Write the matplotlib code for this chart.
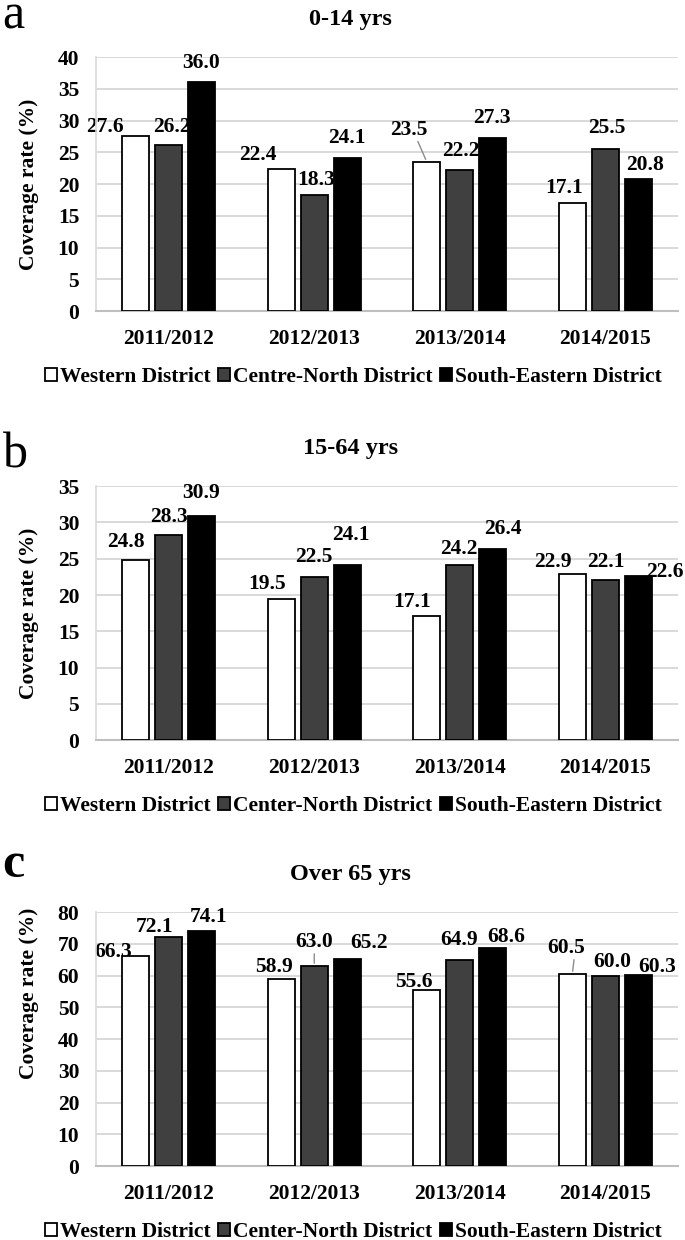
import numpy as np
import matplotlib.pyplot as plt

plt.rcParams['font.family'] = ['Liberation Serif', 'DejaVu Serif']

seasons = ["2011/2012", "2012/2013", "2013/2014", "2014/2015"]

# coverage rate (%) per district, one array per age group
western_014 = [27.6, 22.4, 23.5, 17.1]
centre_014 = [26.2, 18.3, 22.2, 25.5]
southeast_014 = [36.0, 24.1, 27.3, 20.8]

western_1564 = [24.8, 19.5, 17.1, 22.9]
centre_1564 = [28.3, 22.5, 24.2, 22.1]
southeast_1564 = [30.9, 24.1, 26.4, 22.6]

western_65 = [66.3, 58.9, 55.6, 60.5]
centre_65 = [72.1, 63.0, 64.9, 60.0]
southeast_65 = [74.1, 65.2, 68.6, 60.3]

# label offsets (pixels) relative to bar top, per series
offs_a = [[(-31, 9), (-23, 14), (-18, 32), (-8, 15)],
          [(3, 18), (2, 15), (1, 19), (1, 21)],
          [(-1, 19), (0, 20), (-1, 20), (7, 14)]]
offs_b = [[(-10, 18), (-14, 15), (-15, 14), (-19, 12)],
          [(0, 18), (0, 20), (-1, 16), (1, 18)],
          [(-1, 23), (4, 30), (10, 20), (26, 4)]]
offs_c = [[(-23, 4), (-7, 12), (-13, 8), (-6, 26)],
          [(-14, 10), (0, 24), (-1, 20), (7, 14)],
          [(7, 14), (22, 16), (13, 11), (19, 8)]]

panels = [
    ("a", "0-14 yrs", [western_014, centre_014, southeast_014], 40, 5,
     "Centre-North District", offs_a, [(0, 2)], 0.954, 0.5, 0.977, 'normal'),
    ("b", "15-64 yrs", [western_1564, centre_1564, southeast_1564], 35, 5,
     "Center-North District", offs_b, [], 0.608, 0.5, 0.6226, 'normal'),
    ("c", "Over 65 yrs", [western_65, centre_65, southeast_65], 80, 10,
     "Center-North District", offs_c, [(1, 1), (0, 3)], 0.2645, 0.68, 0.293, 'bold'),
]

fs = 15.5
fig = plt.figure(figsize=(6.85, 12.4), dpi=100)
x = np.arange(len(seasons))
w = 0.185
step = 0.227
colors = ["white", "#404040", "black"]

for letter, title, series, ymax, ystep, cname, offs, leaders, top, ylab_y, let_y, let_w in panels:
    ax = fig.add_axes([0.140, top - 0.205, 0.850, 0.205])
    names = ["Western District", cname, "South-Eastern District"]
    for i, vals in enumerate(series):
        xs = x + (i - 1) * step
        ax.bar(xs, vals, w, color=colors[i], edgecolor="black", linewidth=1.3,
               label=names[i], zorder=3)
        for j, v in enumerate(vals):
            dx, dy = offs[i][j]
            ax.annotate(f"{v:.1f}", (xs[j], v), xytext=(dx, dy),
                        textcoords="offset pixels", ha="center", va="center",
                        fontsize=fs, fontweight="bold", zorder=2)
            if (i, j) in leaders:
                ax.annotate("", (xs[j], v), xytext=(dx + (8 if dx < -5 else 0), dy - 9),
                            textcoords="offset pixels",
                            arrowprops=dict(arrowstyle="-", color="#8c8c8c", lw=1),
                            zorder=2)
    ax.set_xlim(-0.5, len(seasons) - 0.5)
    ax.set_ylim(0, ymax)
    ax.set_yticks(np.arange(0, ymax + 1, ystep))
    ax.set_xticks(x)
    ax.set_xticklabels(seasons)
    ax.tick_params(length=0, labelsize=fs)
    ax.tick_params(axis="y", pad=12)
    ax.tick_params(axis="x", pad=13)
    for lab in ax.get_xticklabels() + ax.get_yticklabels():
        lab.set_fontweight("bold")
    ax.grid(axis="y", color="#d9d9d9", linewidth=1.4, zorder=0)
    ax.set_axisbelow(True)
    for s in ["top", "right"]:
        ax.spines[s].set_visible(False)
    ax.spines["left"].set_color("#d9d9d9")
    ax.spines["left"].set_linewidth(1.2)
    ax.spines["bottom"].set_color("#bfbfbf")
    ax.spines["bottom"].set_linewidth(1.5)
    ax.set_ylabel("Coverage rate (%)", fontsize=fs, fontweight="bold")
    ax.yaxis.set_label_coords(-0.098, ylab_y)
    ax.text(0.438, 1.148, title, transform=ax.transAxes, ha="center", va="center",
            fontsize=17.5, fontweight="bold")
    ax.legend(loc="center", bbox_to_anchor=(0.442, -0.259), ncol=3, frameon=False,
              prop={"size": fs, "weight": "bold"}, handlelength=0.55,
              handleheight=0.55, handletextpad=0.15, columnspacing=0.35,
              borderaxespad=0)
    fig.text(0.004, let_y, letter, fontsize=36, fontweight=let_w,
             ha="left", va="baseline")

fig.savefig("out.png", dpi=100)
